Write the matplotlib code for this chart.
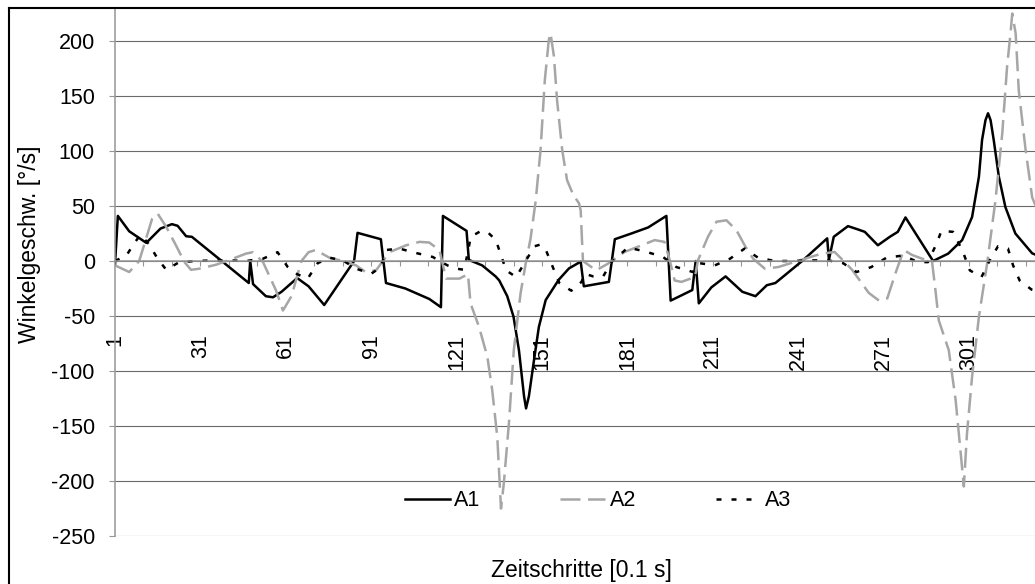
import matplotlib
matplotlib.use('Agg')
import matplotlib.pyplot as plt
from matplotlib.lines import Line2D

plt.rcParams['font.family'] = ['Liberation Sans', 'DejaVu Sans']

# angular velocity per time step (sampled at the corners / turning points)
a1_x = [1, 2, 6, 12, 17, 21, 23, 26, 28, 48, 48.5, 49.5, 54, 56.5, 59.5, 65, 69, 74.5,
        85, 86.2, 94.4, 96.2, 103, 111.4, 115.5, 116.2, 124.5, 125.3, 130, 134.7, 136,
        138.8, 141, 142.9, 144.7, 145.4, 146.4, 148.2, 149.9, 152.3, 156.9, 160.5, 164.6,
        165.7, 174.5, 176.6, 182.4, 188.3, 194.7, 196.2, 199, 203.8, 205, 206.1, 210.5,
        215.5, 221.4, 226, 230, 233, 242.4, 251.2, 251.8, 253.5, 258.5, 262, 264.4, 269,
        273.2, 276, 278.7, 288.4, 293.7, 298.6, 302.1, 304.5, 305.6, 306.8, 307.7, 308.6,
        309.7, 311.5, 313.8, 317.3, 323.2, 326]
a1_y = [-3, 41, 27, 16.5, 29.5, 33.5, 32, 22.5, 22, -20, 0, -21, -32, -33, -28, -15.5, -23, -40,
        0, 25.6, 19.8, -20, -25, -34.5, -42, 41, 27.4, 1, -4, -14, -17.7,
        -32, -50.6, -81, -123, -134, -123, -90, -60, -35.5, -17, -6.7, -0.6,
        -23, -19, 19.8, 25, 30.5, 41, -36, -32.5, -26.4, 0, -38.5, -24,
        -14, -28, -32, -22, -20, 0, 20.6, 1, 22, 31.7, 28.7, 26.5, 14.3,
        22, 26.5, 39.6, 0, 6.7, 19, 40, 76.6, 110, 128, 134.3, 128,
        110, 76.6, 49, 25, 7, 4]

a2_x = [1, 6, 9.5, 14, 16, 19, 22.7, 25.4, 27.7, 30.6, 36.5, 42.3, 47, 49.4, 53, 57.6, 60,
        63, 66.5, 69, 71.5, 76.3, 81, 85.7, 89, 92.7, 97.4, 103.3, 108, 111.4, 115, 117.3,
        122, 125, 125.9, 128.9, 131.8, 133.5, 135.3, 136.6, 137.6, 139.4, 141.1, 143.5,
        145.3, 147, 148.8, 150.5, 152, 153.4, 154, 155.2, 156.3, 158.1, 159.8, 162, 164,
        164.6, 165, 165.4, 170, 174.2, 180, 186, 190.6, 194, 195.9, 197.6, 200, 204.7,
        205.8, 209.3, 212.3, 215.8, 219.3, 222.2, 225.2, 229.3, 234, 238.6, 243.3, 249.2,
        253.8, 257.4, 260, 265.8, 269.4, 272.3, 275.2, 278.1, 281, 285.7, 288, 289.2,
        290.4, 293.9, 296.3, 298, 299.2, 300.3, 302.1, 304.5, 307.4, 310.3, 312.7, 314.4,
        315.6, 316.2, 317.4, 318.5, 320.9, 323.2, 326]
a2_y = [-4, -10, 0, 38, 43, 31, 12.8, -1, -8, -7, -3.4, 2, 6.7, 8, -1, -27, -45,
        -32, 0, 8, 10, 3, 0, -4, -10, -8.5, 8, 14.3, 17.4, 16.8, 9.8, -16,
        -16, -12, -38.5, -60, -87, -117, -160, -225, -202, -147, -81, -29,
        -2, 20.6, 55, 101, 164.5, 201, 207, 186, 146, 101, 73.6, 60, 52.5,
        46, 22, 0, -8.5, -2.4, 8.2, 14.3, 19, 17.4, 0.6, -17.7, -19, -14.6,
        0.6, 22, 35.7, 37, 28, 14.3, 2, -7, -5.5, -1.8, 2, 6.7,
        8.2, -1, -8.2, -29, -36, -34, -11, 10, 5.5, 1, 0, -26,
        -54, -81, -126, -172, -205, -157, -105, -50.6, -2, 55, 116, 177,
        207, 225, 207, 155, 101, 58, 40]

a3_x = [1, 5, 8, 10, 13, 16, 19, 23.6, 29.5, 35, 41.7, 47, 52.9, 58.1, 61.7, 65, 68.7, 72.2,
        76.3, 81, 85.7, 91, 94.4, 96.2, 100.9, 106.7, 112.6, 117.8, 121, 123.7, 126, 129.6,
        132, 134.8, 138.4, 141.9, 145.4, 148.4, 150.5, 152.4, 154.8, 157.1, 161.3, 164.9,
        166, 169, 172.5, 175.4, 181.2, 187.1, 193.5, 198.2, 204, 206.4, 211.7, 217, 222.2,
        226.9, 232.8, 238.6, 245, 251.5, 256.8, 261.5, 266.7, 272, 277.9, 283.1, 286.6,
        289.9, 291.3, 295.4, 298.9, 301.3, 305.4, 308.3, 311.2, 314.7, 316.5, 318.8, 323, 326]
a3_y = [0, 5, 17, 24, 15, 2, -8, -1, 0, 0.5, 0.5, 0, 2, 8, -5.5, -12, -16, -2,
        3, 0.6, -7, -11.6, -5.5, 10, 11.3, 7.3, 3.7, -4, -7, -8, 22, 27.4,
        26, 19, -8.5, -14.6, 0.6, 13.4, 15, 9.8, -5.5, -20, -27, -19,
        -11.6, -14, -14, -1, 12.2, 8.8, 3.7, -5.5, -10, -2, -4, 2, 11.3,
        3, 0, 0, 0.6, 0.6, -2, -10, -5.5, 3, 5, -1, -1,
        17.4, 27.4, 26.5, 8.2, -8.5, -14.6, 0.6, 13.4, 11.3, -4, -17.7, -26, -28]

y_ticks = list(range(-250, 201, 50))
x_ticks = list(range(1, 325, 10))
x_labels = [str(t) if (t - 1) % 30 == 0 else '' for t in x_ticks]

W, H = 1035, 584
fs = 15.5
fs_title = 16.5
axis_col = '#969696'
grid_col = '#6a6a6a'

fig = plt.figure(figsize=(W / 100, H / 100), dpi=100)
ax = fig.add_axes([115 / W, (H - 536) / H, 920 / W, 528 / H])

ax.plot(a1_x, a1_y, color='black', lw=1.8, solid_joinstyle='round', label='A1')
ax.plot(a2_x, a2_y, color='#a6a6a6', lw=1.8, dashes=(8, 3), label='A2')
ax.plot(a3_x, a3_y, color='black', lw=1.8, dashes=(2, 4), label='A3')

ax.set_xlim(1, 324.2)
ax.set_ylim(-250, 230)
ax.set_yticks(y_ticks)
ax.set_yticklabels([str(v) for v in y_ticks])
ax.set_xticks(x_ticks)
ax.set_xticklabels(x_labels)

ax.set_axisbelow(True)
ax.grid(axis='y', color=grid_col, lw=0.8)
ax.spines['top'].set_visible(False)
ax.spines['right'].set_visible(False)
ax.spines['bottom'].set_position(('data', 0))
for s in ('left', 'bottom'):
    ax.spines[s].set_color(axis_col)
    ax.spines[s].set_linewidth(1.1)
ax.tick_params(axis='x', direction='out', length=3.6, width=0.8, color=axis_col,
               pad=49, labelsize=fs, labelrotation=90)
ax.tick_params(axis='y', direction='out', length=4.5, width=0.8, color=axis_col,
               pad=10, labelsize=fs)

fig.text(30 / W, 1 - 244 / H, 'Winkelgeschw. [°/s]', rotation=90,
         ha='center', va='center', fontsize=fs_title)
fig.text(581 / W, 1 - 571 / H, 'Zeitschritte [0.1 s]', ha='center', va='center',
         fontsize=fs_title)

fig.legend(*ax.get_legend_handles_labels(), loc='center', bbox_to_anchor=(598 / W, 1 - 501 / H),
           ncol=3, frameon=False, fontsize=fs, handlelength=2.1, handletextpad=0.2,
           columnspacing=3.7)

# chart border (left and top edges)
fig.add_artist(Line2D([9 / W, 9 / W], [0, 1 - 7.5 / H], color='black', lw=1.5,
                      transform=fig.transFigure))
fig.add_artist(Line2D([9 / W, 1], [1 - 7.5 / H, 1 - 7.5 / H], color='black', lw=1.5,
                      transform=fig.transFigure))

fig.savefig('out.png', dpi=100)
